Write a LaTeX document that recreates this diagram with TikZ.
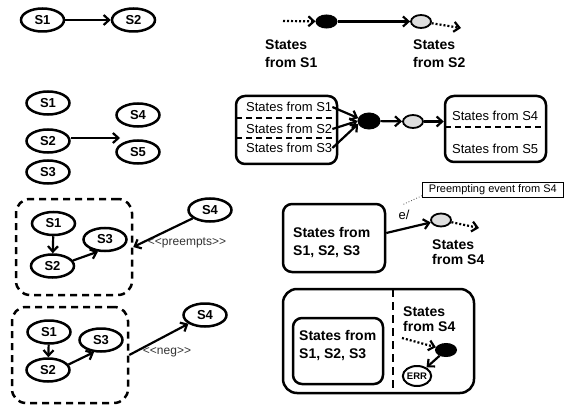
\documentclass[tikz,border=0pt]{standalone}
\usepackage{fontspec}
\setmainfont{Liberation Sans}
\usetikzlibrary{arrows.meta,shapes.geometric}
\begin{document}
\begin{tikzpicture}[x=1pt,y=-1pt,
  state/.style={ellipse,draw,line width=2.5pt,minimum width=43pt,minimum height=23pt,
    inner sep=0pt,font=\fontsize{13}{13}\selectfont\bfseries},
  arr/.style={line width=2.2pt,-{Straight Barb[length=5.5pt,width=10pt]}},
  dotarr/.style={arr,dash pattern=on 2pt off 2pt},
  blackdot/.style={ellipse,draw,fill=black,line width=1pt,minimum width=21pt,
    minimum height=13pt,inner sep=0pt},
  graydot/.style={ellipse,draw,fill=black!13,line width=1.8pt,minimum width=20pt,
    minimum height=13pt,inner sep=0pt},
  rbox/.style={draw,line width=2.5pt,rounded corners=9pt,inner sep=0pt},
  dbox/.style={draw,line width=2.5pt,rounded corners=14pt,dash pattern=on 7pt off 5pt,inner sep=0pt},
  sep/.style={line width=2.2pt,dash pattern=on 6pt off 4pt},
  btxt/.style={align=left,inner sep=0pt,font=\fontsize{14}{#1}\selectfont\bfseries},
  btxt/.default=17,
  ptxt/.style={inner sep=0pt,font=\fontsize{13}{15}\selectfont},
  small/.style={inner sep=0pt,text=black!80,font=\fontsize{12}{14}\selectfont}
]
\useasboundingbox (0,0) rectangle (564,406);

% S1 -> S2
\node[state] (a1) at (42.5,20) {S1};
\node[state] (a2) at (133.5,20) {S2};
\draw[arr] (a1) -- (a2);

% pseudo states for S1 -> S2
\coordinate (b0) at (283,21);
\node[blackdot] (b1) at (326.5,21.5) {};
\node[graydot] (b2) at (421,21.5) {};
\coordinate (b3) at (461,28);
\draw[dotarr] (b0) -- (b1);
\draw[arr] (b1) -- (b2);
\draw[dotarr] (b2) -- (b3);
\node[btxt=17.5,anchor=north west] (b1t) at (265,40) {States\\from S1};
\node[btxt=17.5,anchor=north west] (b2t) at (413,40) {States\\from S2};

% fork of S1, S2, S3 into S4, S5
\node[state] (c1) at (48,103) {S1};
\node[state] (c2) at (48,141) {S2};
\node[state] (c3) at (48,172) {S3};
\node[state] (c4) at (138,115) {S4};
\node[state] (c5) at (138,152) {S5};
\coordinate (c6) at (120,138);
\draw[arr] ([yshift=3pt]c2.east) -- (c6);

% composite states for the fork
\node[rbox,minimum width=101pt,minimum height=68pt] (d1) at (286.5,130) {};
\draw[sep] (236,118) -- (337,118);
\draw[sep] (236,138) -- (337,138);
\node[ptxt,anchor=west] (d1a) at (246,107) {States from S1};
\node[ptxt,anchor=west] (d1b) at (246,129) {States from S2};
\node[ptxt,anchor=west] (d1c) at (246,148) {States from S3};
\node[blackdot,minimum width=22pt,minimum height=16pt] (d2) at (369,121) {};
\node[graydot] (d3) at (413,121.5) {};
\node[rbox,minimum width=101pt,minimum height=66pt] (d4) at (495.5,129) {};
\draw[sep] (445,127) -- (546,127);
\node[ptxt,anchor=west] (d4a) at (452,116) {States from S4};
\node[ptxt,anchor=west] (d4b) at (452,149) {States from S5};
\draw[arr] (d1a.east) -- (d2.165);
\draw[arr] (d1b.east) -- (d2.west);
\draw[arr] (d1c.east) -- (d2.195);
\draw[arr] (d2) -- (d3);
\draw[arr] (d3) -- (d3 -| d4.west);

% preemption
\node[dbox,minimum width=116pt,minimum height=96pt] (e0) at (74,247) {};
\node[state] (e1) at (53.5,223.5) {S1};
\node[state] (e2) at (52.5,266) {S2};
\node[state] (e3) at (105,239.5) {S3};
\node[state] (e4) at (210,210) {S4};
\draw[arr] (e1) -- (e2);
\draw[arr] (e2.15) -- (e3.240);
\draw[arr] (e4) -- (e0.east);
\node[small] (e6) at (187,243) {<{}<preempts>{}>};

% negation
\node[dbox,minimum width=116pt,minimum height=96pt] (f0) at (70,355) {};
\node[state] (f1) at (49,332) {S1};
\node[state] (f2) at (48,370) {S2};
\node[state] (f3) at (101,340) {S3};
\node[state] (f4) at (205,315) {S4};
\draw[arr] (f1) -- (f2);
\draw[arr] (f2.15) -- (f3.240);
\draw[arr] (f0.east) -- (f4);
\node[small] (f5) at (167,352) {<{}<neg>{}>};

% preempting event
\node[rbox,minimum width=102pt,minimum height=68pt] (g1) at (334,238) {};
\node[btxt=18,anchor=north west] (g1t) at (293,227) {States from\\S1, S2, S3};
\node[graydot] (g2) at (441,220) {};
\draw[arr] ([yshift=5pt]g1.east) -- (g2);
\node[ptxt] (g3) at (404,215) {e/};
\coordinate (g4) at (479,228);
\draw[dotarr] (g2) -- (g4);
\node[btxt=14.5,anchor=north west] (g5) at (432,240) {States\\from S4};
\node[draw,line width=0.7pt,inner sep=0pt,minimum width=141pt,minimum height=15pt,
  font=\fontsize{11}{11}\selectfont,anchor=north west] (g6) at (422,182) {Preempting event from S4};
\coordinate (g7) at (402,205);
\draw[line width=0.8pt,dotted,black!70] ([yshift=2pt]g6.south west) -- (g7);

% negated states
\node[rbox,rounded corners=14pt,minimum width=191pt,minimum height=104pt] (h0) at (378.5,341) {};
\draw[line width=2.5pt,dash pattern=on 8pt off 5pt] (393,289) -- (393,393);
\node[rbox,minimum width=90pt,minimum height=66pt] (h1) at (338,351) {};
\node[btxt=18,anchor=north west] (h1t) at (299,330) {States from\\S1, S2, S3};
\node[btxt=15,anchor=north west] (h2) at (403,307) {States\\from S4};
\coordinate (h3) at (402,338);
\node[blackdot] (h4) at (446,350) {};
\node[ellipse,draw,line width=2pt,minimum width=26pt,minimum height=20pt,inner sep=0pt,
  font=\fontsize{9.5}{9.5}\selectfont\bfseries] (h5) at (417,376) {ERR};
\draw[dotarr] (h3) -- (h4);
\draw[arr] (h4) -- (h5);
\end{tikzpicture}
\end{document}
